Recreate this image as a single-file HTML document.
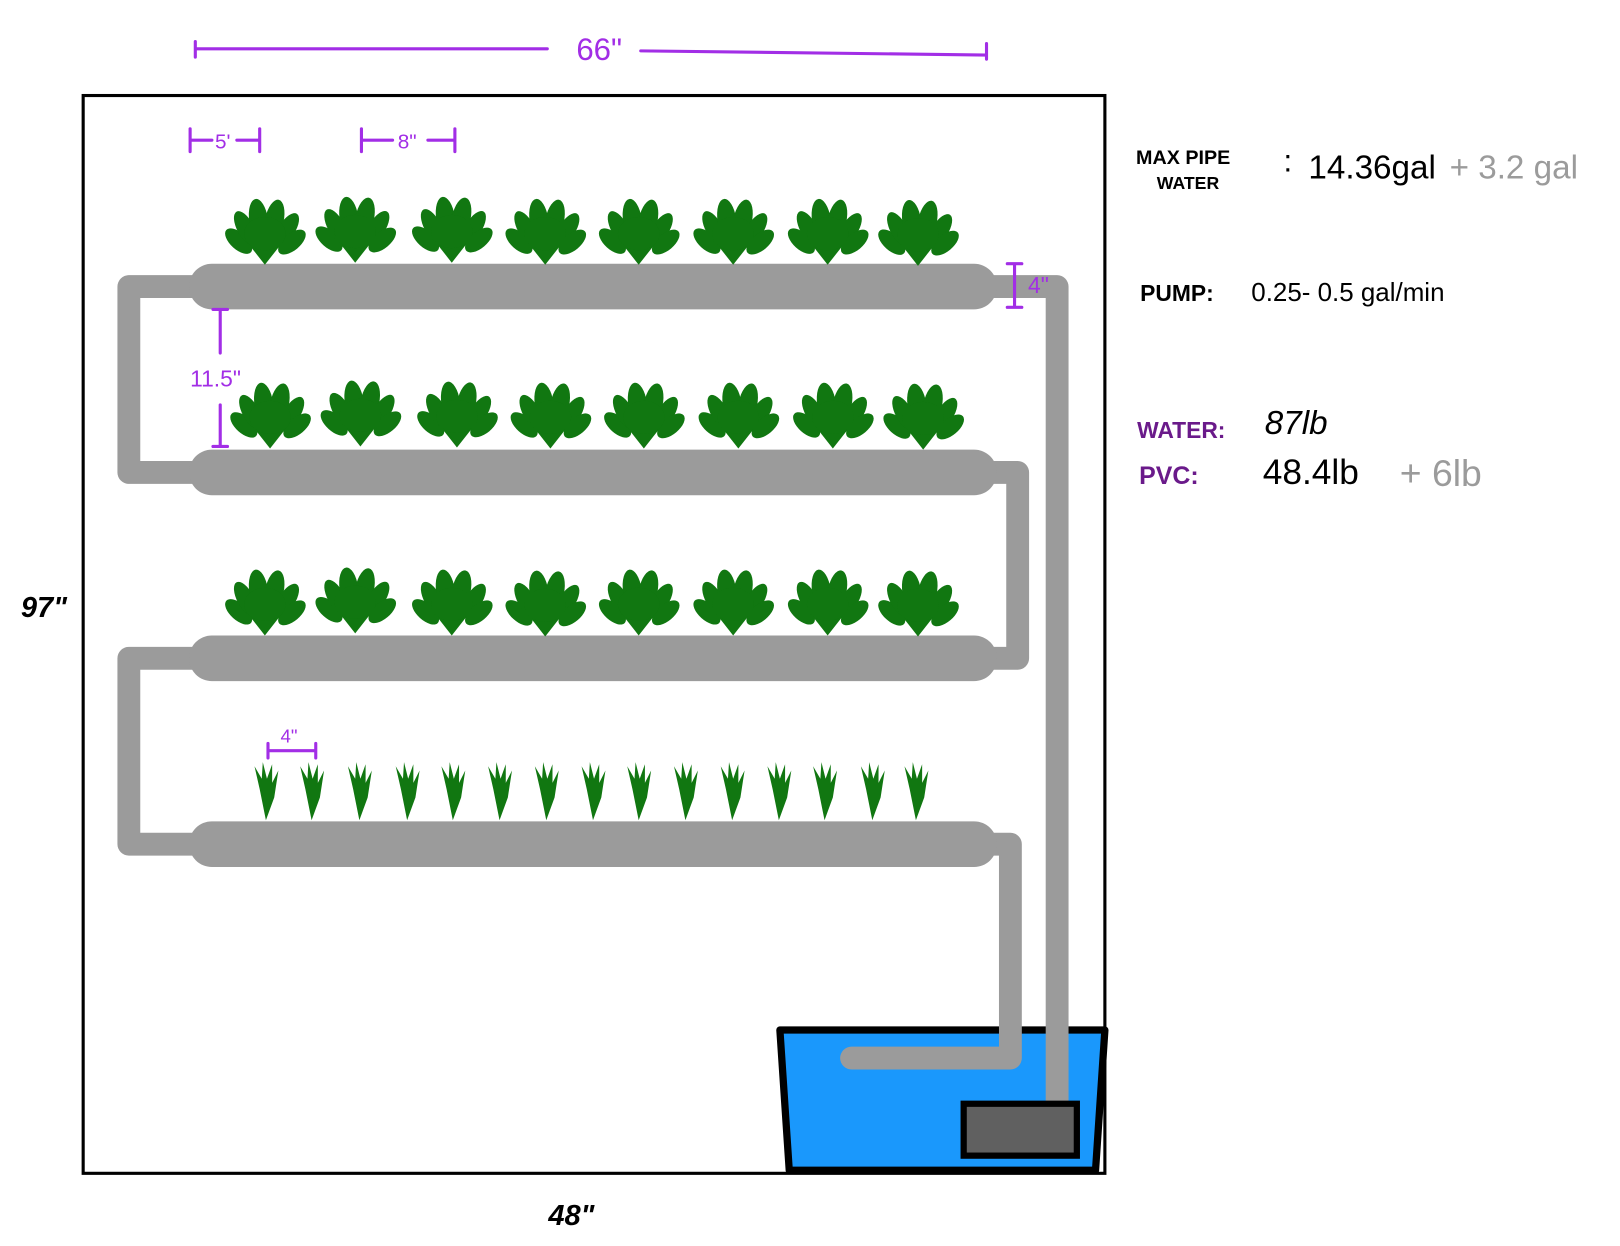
<!DOCTYPE html>
<html><head><meta charset="utf-8"><style>
html,body{margin:0;padding:0;background:#fff;}
svg{display:block;}
text{font-family:"Liberation Sans",sans-serif;}
</style></head><body>
<svg width="1620" height="1246" viewBox="0 0 1560 1200" xmlns="http://www.w3.org/2000/svg">
<defs>
<g id="p" fill="#117711">
 <path d="M0,0 L-22,-28 L22,-28 Z"/>
 <ellipse cx="0" cy="-34" rx="8" ry="16" transform="rotate(-48)"/>
 <ellipse cx="0" cy="-40" rx="8" ry="18" transform="rotate(-28)"/>
 <ellipse cx="0" cy="-44" rx="9" ry="20" transform="rotate(-8)"/>
 <ellipse cx="0" cy="-44" rx="9" ry="20" transform="rotate(12)"/>
 <ellipse cx="0" cy="-40" rx="8" ry="18" transform="rotate(32)"/>
 <ellipse cx="0" cy="-34" rx="8" ry="16" transform="rotate(50)"/>
 <ellipse cx="0" cy="-30" rx="20" ry="16"/>
</g>
<g id="s">
 <path d="M0,0 L-6,-30 L-11,-52 L-4,-40 L-3,-56 L1,-40 L6,-54 L6,-36 L12,-48 L8,-22 Z" fill="#117711"/>
</g>
</defs>
<rect x="80" y="92" width="984" height="1038" fill="none" stroke="#000" stroke-width="3"/>
<polygon points="751,992 1064,992 1055,1127 760,1127" fill="#1a98fc" stroke="#000" stroke-width="7" stroke-linejoin="round"/>
<g fill="none" stroke="#9b9b9b" stroke-width="22" stroke-linejoin="round" stroke-linecap="butt">
 <path d="M190,276 L124,276 L124,455 L190,455"/>
 <path d="M950,455 L980,455 L980,634 L950,634"/>
 <path d="M190,634 L124,634 L124,813 L190,813"/>
 <path d="M950,813 L973,813 L973,1019 L820,1019" stroke-linecap="round"/>
 <path d="M950,276 L1018,276 L1018,1065"/>
</g>
<g stroke="#9b9b9b" stroke-width="44" stroke-linecap="round">
 <line x1="204" y1="276" x2="938" y2="276"/>
 <line x1="204" y1="455" x2="938" y2="455"/>
 <line x1="204" y1="634" x2="938" y2="634"/>
 <line x1="204" y1="813" x2="938" y2="813"/>
</g>
<rect x="928" y="1063" width="109" height="50" fill="#606060" stroke="#000" stroke-width="6"/>
<g>
<use href="#p" x="255" y="255"/><use href="#p" x="342" y="253"/><use href="#p" x="435" y="253"/><use href="#p" x="525" y="255"/><use href="#p" x="615" y="255"/><use href="#p" x="706" y="255"/><use href="#p" x="797" y="255"/><use href="#p" x="884" y="256"/>
<use href="#p" x="260" y="432"/><use href="#p" x="347" y="430"/><use href="#p" x="440" y="431"/><use href="#p" x="530" y="432"/><use href="#p" x="620" y="432"/><use href="#p" x="711" y="432"/><use href="#p" x="802" y="432"/><use href="#p" x="889" y="433"/>
<use href="#p" x="255" y="612"/><use href="#p" x="342" y="610"/><use href="#p" x="435" y="612"/><use href="#p" x="525" y="613"/><use href="#p" x="615" y="612"/><use href="#p" x="706" y="612"/><use href="#p" x="797" y="612"/><use href="#p" x="884" y="613"/>
<use href="#s" x="256" y="790"/><use href="#s" x="300" y="790"/><use href="#s" x="346" y="790"/><use href="#s" x="392" y="790"/><use href="#s" x="436" y="790"/><use href="#s" x="481" y="790"/><use href="#s" x="526" y="790"/><use href="#s" x="571" y="790"/><use href="#s" x="615" y="790"/><use href="#s" x="660" y="790"/><use href="#s" x="705" y="790"/><use href="#s" x="750" y="790"/><use href="#s" x="794" y="790"/><use href="#s" x="840" y="790"/><use href="#s" x="882" y="790"/>
</g>
<g stroke="#a22ee6" stroke-width="3" fill="none" stroke-linecap="round">
 <path d="M188,40 V55 M188,47 H527 M617,49 L950,53 M950,42 V57"/>
 <path d="M183,124 V146 M183,135 H204 M228,135 H250 M250,124 V146"/>
 <path d="M348,124 V146 M348,135 H378 M412,135 H438 M438,124 V146"/>
 <path d="M205,298 H219 M212,298 V340 M212,390 V430 M205,430 H219"/>
 <path d="M970,254 H984 M977,254 V296 M970,296 H984"/>
 <path d="M258,716 V730 M258,723 H304 M304,716 V730"/>
</g>
<g fill="#a22ee6">
 <text x="555" y="58" font-size="30">66"</text>
 <text x="207" y="143" font-size="20">5'</text>
 <text x="383" y="143" font-size="20">8"</text>
 <text x="183" y="372" font-size="22">11.5"</text>
 <text x="990" y="282" font-size="22">4"</text>
 <text x="270" y="715" font-size="18">4"</text>
</g>
<text x="20" y="594" font-size="28" font-style="italic" font-weight="bold">97"</text>
<text x="528" y="1180" font-size="28" font-style="italic" font-weight="bold">48"</text>
<text x="1094" y="158" font-size="19" font-weight="bold">MAX PIPE</text>
<text x="1114" y="182" font-size="17" font-weight="bold">WATER</text>
<text x="1236" y="165" font-size="30">:</text>
<text x="1260" y="172" font-size="32">14.36gal</text>
<text x="1396" y="172" font-size="32" fill="#9b9b9b">+ 3.2 gal</text>
<text x="1098" y="290" font-size="22" font-weight="bold">PUMP:</text>
<text x="1205" y="290" font-size="25">0.25- 0.5 gal/min</text>
<text x="1095" y="422" font-size="22" font-weight="bold" fill="#6a1a8a">WATER:</text>
<text x="1218" y="418" font-size="32" font-style="italic">87lb</text>
<text x="1097" y="466" font-size="24" font-weight="bold" fill="#6a1a8a">PVC:</text>
<text x="1216" y="466" font-size="34">48.4lb</text>
<text x="1348" y="468" font-size="36" fill="#9b9b9b">+ 6lb</text>
</svg>
</body></html>
